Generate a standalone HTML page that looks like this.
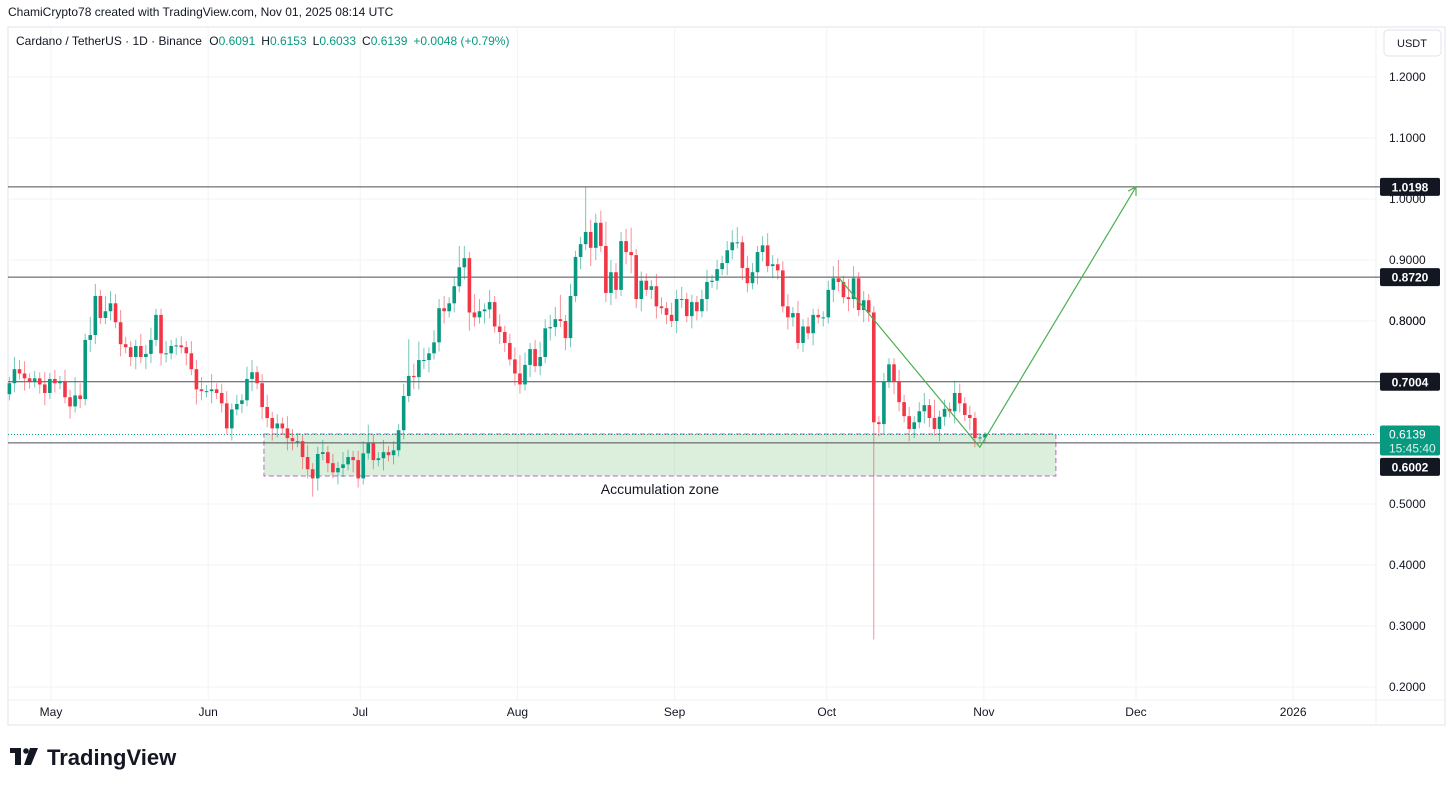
<!DOCTYPE html>
<html><head><meta charset="utf-8"><style>
body{margin:0;background:#fff;width:1453px;height:783px;overflow:hidden;font-family:"Liberation Sans",sans-serif;}
svg text{font-family:"Liberation Sans",sans-serif;}
</style></head><body>
<svg id="c" width="1453" height="783" xmlns="http://www.w3.org/2000/svg">
<rect x="8" y="27" width="1437" height="698" fill="none" stroke="#e0e3eb"/>
<line x1="1376" y1="27" x2="1376" y2="725" stroke="#eef0f4"/>
<line x1="8" y1="700" x2="1445" y2="700" stroke="#eef0f4"/>
<g id="grid"></g>
<g id="zone"></g>
<g id="levels"></g>
<g id="candles"></g>
<g id="proj"></g>
<g id="axes"></g>
<text x="8" y="16" font-size="12" fill="#131722">ChamiCrypto78 created with TradingView.com, Nov 01, 2025 08:14 UTC</text>
<text x="16" y="45" font-size="12" fill="#131722">Cardano / TetherUS · 1D · Binance <tspan dx="4">O</tspan><tspan fill="#089981">0.6091</tspan><tspan dx="6">H</tspan><tspan fill="#089981">0.6153</tspan><tspan dx="6">L</tspan><tspan fill="#089981">0.6033</tspan><tspan dx="6">C</tspan><tspan fill="#089981">0.6139</tspan><tspan dx="6" fill="#089981">+0.0048 (+0.79%)</tspan></text>
<rect x="1384" y="30" width="57" height="26" rx="4" fill="#fff" stroke="#e0e3eb"/>
<text x="1412" y="47" font-size="11" fill="#131722" text-anchor="middle">USDT</text>
<g>
<rect x="10" y="748" width="11" height="5" fill="#131722"/><rect x="15" y="748" width="6" height="17" fill="#131722"/><circle cx="26" cy="751" r="2.8" fill="#131722"/><polygon points="30,748 38,748 31,765 24,765" fill="#131722"/>
<text x="47" y="765" font-size="22" font-weight="bold" fill="#131722">TradingView</text>
</g>
</svg>
<script>
const closes=[.698,.721,.714,.706,.701,.706,.696,.682,.705,.698,.700,.675,.660,.678,.672,.769,.777,.841,.805,.816,.829,.798,.762,.757,.741,.759,.741,.746,.769,.810,.747,.747,.759,.760,.757,.747,.721,.688,.685,.685,.688,.682,.665,.624,.655,.664,.670,.705,.716,.698,.659,.641,.624,.632,.624,.608,.603,.603,.577,.557,.542,.582,.585,.567,.552,.559,.565,.577,.572,.542,.583,.600,.572,.575,.585,.580,.588,.621,.677,.710,.708,
.736,.736,.747,.765,.821,.816,.829,.857,.888,.903,.814,.806,.816,.819,.831,.791,.782,.764,.737,.714,.696,.728,.754,.726,.741,.788,.790,.803,.800,.772,.841,.905,.926,.946,.920,.961,.923,.846,.880,.851,.931,.913,.908,.836,.866,.851,.857,.824,.821,.810,.800,.836,.836,.808,.831,.816,.836,.864,.866,.885,.895,.916,.929,.929,.887,.862,.880,.913,.924,.890,.893,.883,.824,.806,.813,.764,.791,.780,.810,.806,
.806,.851,.870,.864,.839,.836,.870,.818,.834,.814,.634,.631,.700,.729,.700,.667,.644,.623,.634,.652,.662,.641,.623,.643,.656,.652,.682,.665,.646,.641,.608,.6091,.6139];
const wickUp=[.01,.02,.015,.02,.008,.012,.01,.02,.01,.015,.01,.02,.012,.03,.02,.01,.03,.02,.01,.025,.02,.015,.02,.012,.01,.01,.02,.015,.02,.01,.01,.02,.01,.012,.015,.01,.02,.015,.02,.01,.025,.01,.015,.02,.01,.015,.01,.02,.02,.01,.015,.02,.01,.015,.01,.02,.015,.012,.01,.02,.01,.012,.02,.01,.015,.01,.02,.012,.01,.015,.02,.03,.015,.01,.02,.01,.015,.01,.02,.06,.02,
.03,.02,.01,.02,.015,.02,.01,.015,.035,.02,.01,.03,.02,.01,.02,.01,.02,.01,.015,.02,.03,.02,.01,.015,.025,.015,.02,.02,.04,.01,.02,.01,.012,.074,.02,.015,.02,.04,.02,.015,.015,.02,.04,.01,.015,.012,.01,.02,.015,.01,.02,.015,.02,.01,.012,.01,.015,.02,.01,.015,.012,.015,.02,.025,.01,.02,.015,.01,.015,.02,.015,.01,.015,.02,.01,.02,.012,.015,.01,.01,
.01,.015,.02,.03,.01,.03,.02,.01,.015,.01,.01,.01,.015,.01,.01,.02,.012,.015,.01,.015,.02,.01,.03,.01,.015,.01,.02,.015,.01,.015,.01,.0062,.004];
const wickDn=[.01,.015,.01,.02,.012,.01,.015,.02,.01,.015,.01,.01,.02,.01,.015,.01,.02,.015,.01,.01,.015,.01,.02,.01,.015,.02,.01,.02,.015,.01,.02,.015,.01,.015,.01,.02,.01,.025,.015,.01,.02,.01,.015,.01,.02,.01,.015,.01,.02,.01,.02,.015,.02,.015,.01,.02,.015,.01,.02,.015,.03,.02,.01,.015,.01,.02,.015,.01,.02,.015,.01,.01,.015,.01,.02,.01,.015,.01,.015,.01,.02,
.02,.015,.02,.01,.015,.02,.01,.015,.01,.02,.03,.015,.01,.02,.015,.01,.02,.015,.01,.02,.015,.01,.02,.01,.015,.01,.02,.015,.01,.02,.015,.01,.02,.01,.03,.02,.01,.015,.02,.015,.01,.02,.03,.015,.02,.01,.015,.02,.01,.015,.01,.02,.015,.01,.02,.015,.01,.02,.01,.015,.01,.02,.015,.01,.02,.015,.01,.02,.015,.01,.02,.015,.01,.02,.015,.01,.015,.01,.02,.01,
.015,.01,.02,.015,.01,.02,.015,.01,.02,.015,.356,.02,.015,.01,.02,.015,.01,.02,.015,.01,.02,.015,.01,.02,.015,.01,.02,.015,.01,.02,.015,.0058,.008];
const firstOpen=0.680;
const priceTicks=[1.2,1.1,1.0,0.9,0.8,0.5,0.4,0.3,0.2];
const levelPrices=[1.0198,0.872,0.7004,0.6002];
const levelLabels=["1.0198","0.8720","0.7004","0.6002"];
const monthLabels=["May","Jun","Jul","Aug","Sep","Oct","Nov","Dec","2026"];
const monthDays=[0,31,61,92,123,153,184,214,245];
const zoneTop=0.6148,zoneBot=0.546,zoneStartDay=42,zoneEndDay=198.2;
const projPrices=[0.870,0.593,1.0198];
const projDays=[155.5,183.2,214];
const lastPrice=0.6139;

const NS="http://www.w3.org/2000/svg";
const Y=p=>77+(1.2-p)*610;
const X=d=>51+d*5.07;
const N=closes.length;
const idxX=i=>985-(N-1-i)*5.055;
function mk(tag,attrs,parent){const e=document.createElementNS(NS,tag);for(const k in attrs)e.setAttribute(k,attrs[k]);parent.appendChild(e);return e;}
const grid=document.getElementById('grid'),axes=document.getElementById('axes');
priceTicks.forEach(p=>{
  const l=mk('line',{x1:8,x2:1376,y1:Y(p),y2:Y(p),stroke:'#f2f3f6'},grid);
  
  
  const t=mk('text',{x:1389,y:Y(p)+4,'font-size':12,fill:'#131722'},axes);
  t.textContent=p.toFixed(4);
  
  
});
const t8=mk('text',{x:1389,y:Y(0.8)+4,'font-size':12,fill:'#131722'},axes);t8.textContent='0.8000';


monthLabels.forEach((m,i)=>{
  const x=X(monthDays[i]);
  const l=mk('line',{x1:x,x2:x,y1:27,y2:700,stroke:'#f2f3f6'},grid);
  
  
  const t=mk('text',{x:x,y:716,'font-size':12,fill:'#131722','text-anchor':'middle'},axes);
  t.textContent=m;
  
  
});
const zone=document.getElementById('zone');
const zr=mk('rect',{x:X(zoneStartDay),y:Y(zoneTop),width:X(zoneEndDay)-X(zoneStartDay),height:Y(zoneBot)-Y(zoneTop),fill:'rgba(76,175,80,0.2)',stroke:'#ba68c8','stroke-dasharray':'5,3','stroke-width':1},zone);


const zt=mk('text',{x:(X(zoneStartDay)+X(zoneEndDay))/2,y:Y(zoneBot)+18,'font-size':14,fill:'#131722','text-anchor':'middle'},zone);
zt.textContent='Accumulation zone';


const lv=document.getElementById('levels');
const pl=mk('line',{x1:8,x2:1376,y1:Y(lastPrice),y2:Y(lastPrice),stroke:'#089981','stroke-dasharray':'1,2'},lv);


levelPrices.forEach((p,i)=>{
  const l=mk('line',{x1:8,x2:1384,y1:Y(p),y2:Y(p),stroke:'#4a4d55','stroke-width':1},lv);
  
  
  const yy=p===0.6002?Y(p)+24:Y(p);
  const r=mk('rect',{x:1380,y:yy-9,width:60,height:18,rx:2,fill:'#131722'},lv);
  
  
  const t=mk('text',{x:1410,y:yy+4.5,'font-size':12,'font-weight':'bold',fill:'#fff','text-anchor':'middle'},lv);
  t.textContent=levelLabels[i];
  
  
});
const lb=mk('rect',{x:1380,y:Y(lastPrice)-9,width:60,height:30,rx:2,fill:'#089981'},lv);


const lt=mk('text',{x:1389,y:Y(lastPrice)+4,'font-size':12,fill:'#fff'},lv);lt.textContent=lastPrice.toFixed(4);


const lc=mk('text',{x:1389,y:Y(lastPrice)+18,'font-size':12,fill:'#d9f2ec'},lv);lc.textContent='15:45:40';


const cg=document.getElementById('candles');
let prev=firstOpen;
closes.forEach((c,i)=>{
  const o=prev;prev=c;
  const up=c>=o,col=up?'#089981':'#f23645';
  const x=idxX(i);
  const hi=Math.max(o,c)+wickUp[i],lo=Math.min(o,c)-wickDn[i];
  const w=mk('line',{x1:x,x2:x,y1:Y(hi),y2:Y(lo),stroke:col,'stroke-width':1,'stroke-opacity':0.55},cg);
  
  
  const top=Y(Math.max(o,c)),h=Math.max(1,Math.abs(Y(o)-Y(c)));
  const b=mk('rect',{x:x-1.8,y:top,width:3.6,height:h,fill:col},cg);
  
  
});
const pg=document.getElementById('proj');
const pts=projDays.map((d,i)=>X(d)+','+Y(projPrices[i])).join(' ');
const pp=mk('polyline',{points:pts,fill:'none',stroke:'#4caf50','stroke-width':1.2},pg);


const ex=X(projDays[2]),ey=Y(projPrices[2]),sx=X(projDays[1]),sy=Y(projPrices[1]);
const ang=Math.atan2(ey-sy,ex-sx);
const ah=mk('polyline',{points:`${ex+9*Math.cos(ang+2.6)},${ey+9*Math.sin(ang+2.6)} ${ex},${ey} ${ex+9*Math.cos(ang-2.6)},${ey+9*Math.sin(ang-2.6)}`,fill:'none',stroke:'#4caf50','stroke-width':1.2},pg);


</script>
</body></html>
